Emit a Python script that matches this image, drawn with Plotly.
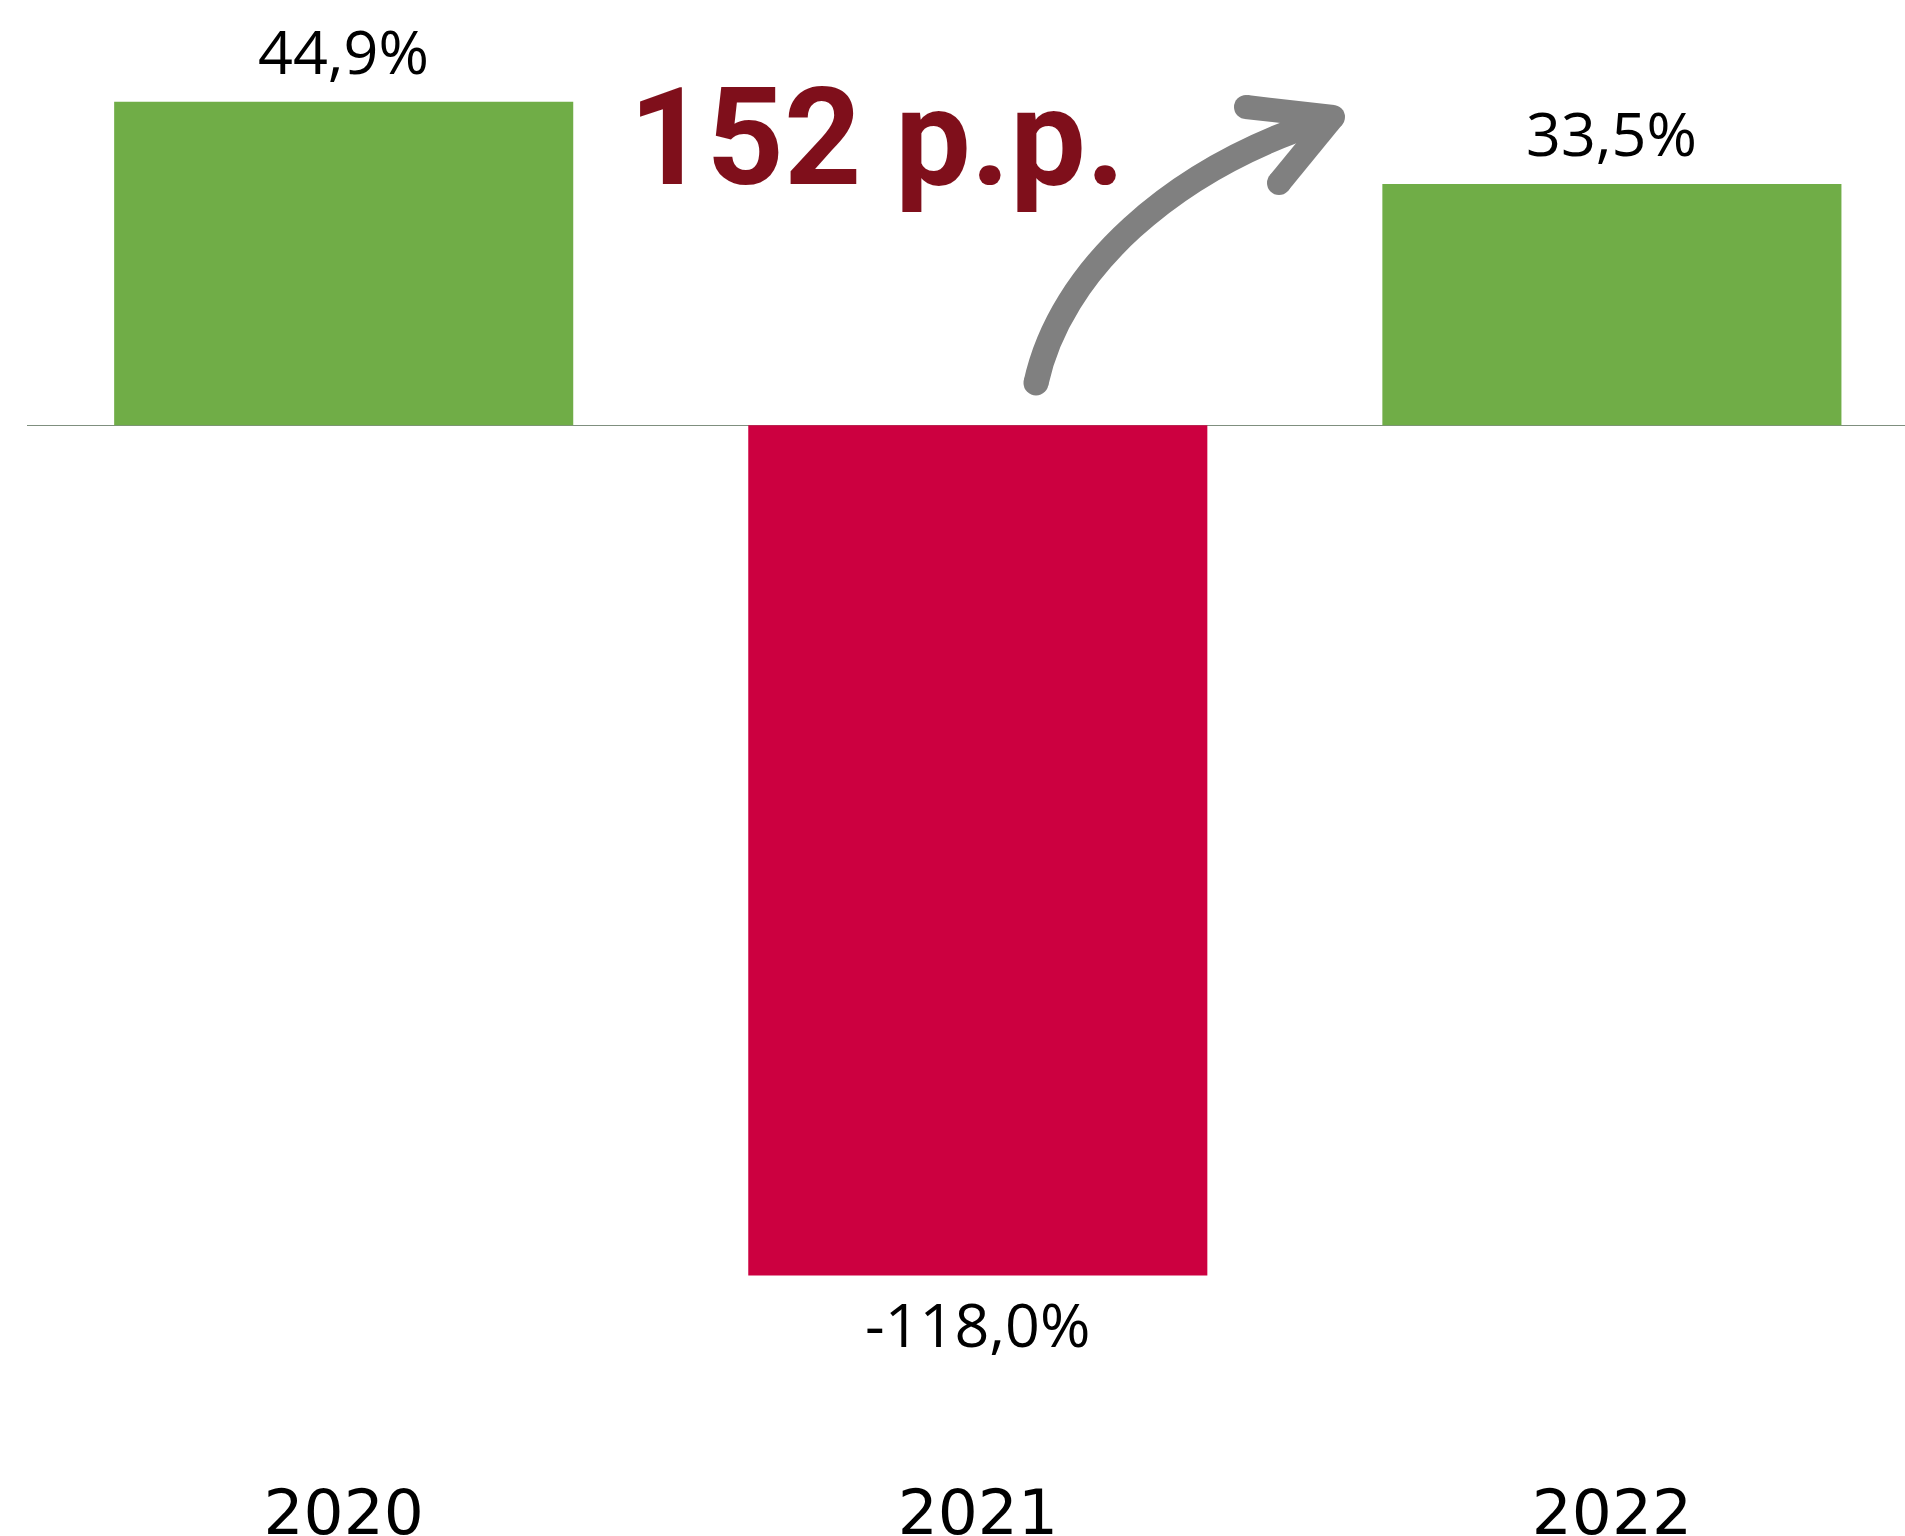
import plotly.graph_objects as go

years = ["2020", "2021", "2022"]
values = [44.9, -118.0, 33.5]
labels = ["44,9%", "-118,0%", "33,5%"]
colors = ["#70AD47", "#CC0040", "#70AD47"]
headline = "152 p.p."

W, H = 1905, 1536
ML, MR, MT, MB = 27, 0, 0, 66
PW, PH = W - ML - MR, H - MT - MB


def px(x, y):
    """page pixel -> paper fraction"""
    return (x - ML) / PW, 1 - (y - MT) / PH


fig = go.Figure()
fig.add_trace(go.Bar(x=years, y=values, marker=dict(color=colors, line=dict(width=0)),
                     width=0.724, hoverinfo="skip"))

for i, (v, lab) in enumerate(zip(values, labels)):
    fig.add_annotation(x=i, y=v, text=lab, showarrow=False,
                       yanchor="bottom" if v >= 0 else "top",
                       yshift=8 if v >= 0 else -5,
                       font=dict(family="Open Sans", size=61, color="#000000"))

hx, hy = px(876.5, 138.5)
fig.add_annotation(xref="paper", yref="paper", x=hx, y=hy, text="<b>" + headline + "</b>",
                   showarrow=False, xanchor="center", yanchor="middle",
                   font=dict(family="Roboto", size=135, color="#7F0F1B"))

gray = "#808080"
p0 = px(1036, 383); p1 = px(1060, 272); p2 = px(1170, 168); p3 = px(1331, 118)
curve = (f"M {p0[0]:.5f},{p0[1]:.5f} C {p1[0]:.5f},{p1[1]:.5f} "
         f"{p2[0]:.5f},{p2[1]:.5f} {p3[0]:.5f},{p3[1]:.5f}")
w1 = px(1246, 107); tip = px(1333, 117); w2 = px(1279, 183)
fig.add_shape(type="path", xref="paper", yref="paper", path=curve,
              line=dict(color=gray, width=25), layer="above")
for a in (w1, w2):
    fig.add_shape(type="path", xref="paper", yref="paper",
                  path=f"M {a[0]:.5f},{a[1]:.5f} L {tip[0]:.5f},{tip[1]:.5f}",
                  line=dict(color=gray, width=24), layer="above")
for (cx, cy, r) in [(1036, 383, 12.5), (1246, 107, 12), (1279, 183, 12), (1333, 117, 12)]:
    x0, y0 = px(cx - r, cy + r)
    x1, y1 = px(cx + r, cy - r)
    fig.add_shape(type="circle", xref="paper", yref="paper", x0=x0, y0=y0, x1=x1, y1=y1,
                  fillcolor=gray, line=dict(width=0), layer="above")

zero_y = 425.3
scale = 7.205
ytop = (zero_y - MT) / scale
ybot = -(PH - (zero_y - MT)) / scale
center0 = 343.7
spacing = 634.1
xleft = -(center0 - ML) / spacing
xright = xleft + PW / spacing

fig.update_layout(
    width=W, height=H,
    margin=dict(l=ML, r=MR, t=MT, b=MB, autoexpand=False),
    paper_bgcolor="white", plot_bgcolor="white",
    showlegend=False,
    xaxis=dict(type="category", range=[xleft, xright], showgrid=False, showline=False,
               ticks="", automargin=False,
               tickfont=dict(family="DejaVu Sans", size=63, color="#000000"), zeroline=False),
    yaxis=dict(range=[ybot, ytop], showgrid=False, showticklabels=False, ticks="",
               automargin=False,
               zeroline=True, zerolinecolor="#7F8F7F", zerolinewidth=1.5),
)

fig.write_html("out.html", config={"displayModeBar": False, "staticPlot": True},
               post_script="document.body.style.margin='0';document.body.style.overflow='hidden';")
